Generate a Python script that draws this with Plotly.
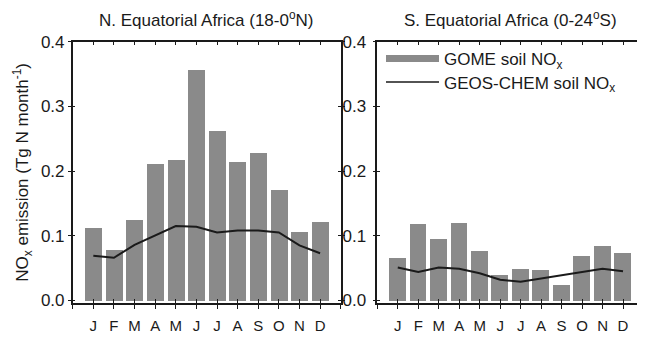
import plotly.graph_objects as go

months = ["J", "F", "M", "A", "M", "J", "J", "A", "S", "O", "N", "D"]

# N. Equatorial Africa (18-0N)
north_gome = [0.112, 0.078, 0.125, 0.212, 0.218, 0.356, 0.263, 0.215, 0.229, 0.171, 0.107, 0.122]
north_geos = [0.069, 0.066, 0.086, 0.100, 0.115, 0.114, 0.105, 0.108, 0.108, 0.105, 0.085, 0.073]

# S. Equatorial Africa (0-24S)
south_gome = [0.066, 0.118, 0.095, 0.120, 0.077, 0.040, 0.049, 0.048, 0.025, 0.069, 0.085, 0.074]
south_geos = [0.051, 0.044, 0.051, 0.049, 0.042, 0.032, 0.029, 0.034, 0.038, 0.043, 0.049, 0.045]

ytick_vals = [0.0, 0.1, 0.2, 0.3, 0.4]
ytick_text = ["0.0", "0.1", "0.2", "0.3", "0.4"]

titles = ["N. Equatorial Africa (18-0<sup>o</sup>N)", "S. Equatorial Africa (0-24<sup>o</sup>S)"]

BAR = "#8a8a8a"
INK = "#1a1a1a"
FONT = "Liberation Sans, Arial, sans-serif"

idx = list(range(len(months)))
xtick_vals = [-1] + idx + [len(months)]
xtick_text = [""] + months + [""]

# the page body has an 8px margin; lay out in page pixels and subtract it
OFF = 8
W, H = 645 - OFF, 338 - OFF


def px_x(p):
    return (p - OFF) / W


def px_y(p):
    return 1 - (p - OFF) / H


top_px, bot_px = 41.7, 303.0
ydom = [px_y(bot_px), px_y(top_px)]
xdoms = [[px_x(72.7), px_x(340.7)], [px_x(377.3), px_x(643.5)]]
yrange = [-0.004, 0.4]
xrange = [-1, 12]

fig = go.Figure()

fig.add_trace(go.Bar(x=idx, y=north_gome, width=0.82, marker=dict(color=BAR, line=dict(width=0)),
                     xaxis="x", yaxis="y", showlegend=False))
fig.add_trace(go.Scatter(x=idx, y=north_geos, mode="lines", line=dict(color=INK, width=2),
                         xaxis="x", yaxis="y", showlegend=False))
fig.add_trace(go.Bar(x=idx, y=south_gome, width=0.82, marker=dict(color=BAR, line=dict(width=0)),
                     xaxis="x2", yaxis="y2", showlegend=False))
fig.add_trace(go.Scatter(x=idx, y=south_geos, mode="lines", line=dict(color=INK, width=2),
                         xaxis="x2", yaxis="y2", showlegend=False))
# legend entries
fig.add_trace(go.Scatter(x=[None], y=[None], mode="lines", line=dict(color=BAR, width=7),
                         name="GOME soil NO<sub>x</sub>", xaxis="x2", yaxis="y2", legend="legend"))
fig.add_trace(go.Scatter(x=[None], y=[None], mode="lines", line=dict(color=INK, width=1.5),
                         name="GEOS-CHEM soil NO<sub>x</sub>", xaxis="x2", yaxis="y2", legend="legend2"))
# empty traces for overlay tick axes
for xa, ya in (("x3", "y3"), ("x4", "y4")):
    fig.add_trace(go.Scatter(x=[], y=[], xaxis=xa, yaxis=ya, showlegend=False, hoverinfo="skip"))

tickfont = dict(family=FONT, size=17, color=INK)


def xaxis_main(dom, anchor):
    return dict(domain=dom, anchor=anchor, range=xrange, tickmode="array", tickvals=xtick_vals,
                ticktext=xtick_text, ticks="outside", ticklen=4, tickwidth=1.2, tickcolor=INK,
                showline=True, linecolor=INK, linewidth=1.5, mirror=False, showgrid=False,
                zeroline=False, tickfont=dict(family=FONT, size=15, color=INK), ticklabelstandoff=4,
                automargin=False)


def xaxis_over(over, anchor):
    return dict(overlaying=over, anchor=anchor, range=xrange, tickmode="array", tickvals=xtick_vals,
                ticks="inside", ticklen=4, tickwidth=1.2, tickcolor=INK, showticklabels=False,
                showline=True, linecolor=INK, linewidth=1.5, mirror="ticks", showgrid=False,
                zeroline=False, automargin=False)


def yaxis_main(anchor, standoff, title=None):
    d = dict(domain=ydom, anchor=anchor, range=yrange, tickmode="array", tickvals=ytick_vals,
             ticktext=ytick_text, ticks="outside", ticklen=3, tickwidth=1.2, tickcolor=INK,
             showline=True, linecolor=INK, linewidth=1.5, mirror="ticks", showgrid=False,
             zeroline=False, tickfont=tickfont, ticklabelstandoff=standoff, automargin=False)
    if title:
        d["title"] = dict(text=title, font=dict(family=FONT, size=17, color=INK), standoff=8)
    return d


def yaxis_over(over, anchor):
    return dict(overlaying=over, anchor=anchor, range=yrange, tickmode="array", tickvals=ytick_vals,
                ticks="inside", ticklen=3, tickwidth=1.2, tickcolor=INK, showticklabels=False,
                showline=True, linecolor=INK, linewidth=1.5, mirror="ticks", showgrid=False,
                zeroline=False, automargin=False)


annotations = []
for i, t in enumerate(titles):
    annotations.append(dict(text=t, x=(xdoms[i][0] + xdoms[i][1]) / 2, y=px_y(19),
                            xref="paper", yref="paper", showarrow=False, xanchor="center",
                            yanchor="middle", font=dict(family=FONT, size=17, color=INK)))

legend_common = dict(xanchor="left", yanchor="middle", bgcolor="rgba(0,0,0,0)",
                     font=dict(family=FONT, size=17, color=INK), itemwidth=53)

fig.update_layout(
    width=W, height=H, margin=dict(l=0, r=0, t=0, b=0, autoexpand=False),
    paper_bgcolor="white", plot_bgcolor="white",
    bargap=0,
    xaxis=xaxis_main(xdoms[0], "y"),
    xaxis2=xaxis_main(xdoms[1], "y2"),
    xaxis3=xaxis_over("x", "y"),
    xaxis4=xaxis_over("x2", "y2"),
    yaxis=yaxis_main("x", 0, "NO<sub>x</sub> emission (Tg N month<sup>-1</sup>)"),
    yaxis2=yaxis_main("x2", 3),
    yaxis3=yaxis_over("y", "x"),
    yaxis4=yaxis_over("y2", "x2"),
    annotations=annotations,
    legend=dict(x=px_x(381), y=px_y(59), **legend_common),
    legend2=dict(x=px_x(381), y=px_y(82.5), **legend_common),
    showlegend=True,
)

fig.write_html("out.html")
